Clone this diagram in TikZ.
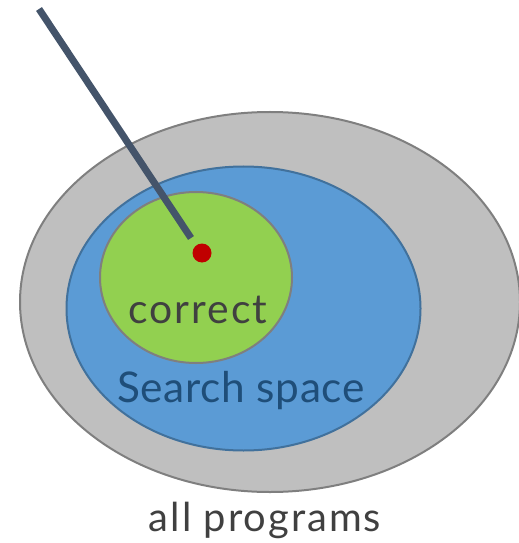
\documentclass[tikz,border=0pt]{standalone}
\usepackage{fontspec}
\setmainfont{Lato}
\definecolor{allfill}{HTML}{BFBFBF}
\definecolor{allline}{HTML}{7F7F7F}
\definecolor{spacefill}{HTML}{5B9BD5}
\definecolor{spaceline}{HTML}{41719C}
\definecolor{okfill}{HTML}{92D050}
\definecolor{dotred}{HTML}{C00000}
\definecolor{pointer}{HTML}{44546A}
\definecolor{labelgrey}{HTML}{404040}
\definecolor{labelblue}{HTML}{1F4E79}
\begin{document}
\begin{tikzpicture}[x=1bp,y=-1bp,
  region/.style={line width=2bp},
  lbl/.style={inner sep=0pt,anchor=base}]
\useasboundingbox (0,0) rectangle (519,543);
% nested sets
\draw[region,fill=allfill,draw=allline] (270,302) ellipse [x radius=250,y radius=190];
\draw[region,fill=spacefill,draw=spaceline] (243.5,308.5) ellipse [x radius=177,y radius=142];
\draw[region,fill=okfill,draw=allline] (196,277.5) ellipse [x radius=96,y radius=85.5];
% target point and the pointer reaching it
\node[circle,fill=dotred,inner sep=0pt,minimum size=19bp] (dot) at (202,253) {};
\coordinate (tip) at (39,9);
\coordinate (end) at (191,238);
\draw[pointer,line width=7bp] (tip) -- (end);
% labels
\node[lbl,text=labelgrey,font=\fontsize{41}{46}\selectfont\addfontfeature{LetterSpace=5}] (ok) at (198,323) {correct};
\node[lbl,text=labelblue,font=\fontsize{42.5}{48}\selectfont\addfontfeature{LetterSpace=1.5}] (space) at (241,402) {Search space};
\node[lbl,text=labelgrey,font=\fontsize{40}{45}\selectfont\addfontfeature{LetterSpace=5}] (all) at (265,531) {all programs};
\end{tikzpicture}
\end{document}
